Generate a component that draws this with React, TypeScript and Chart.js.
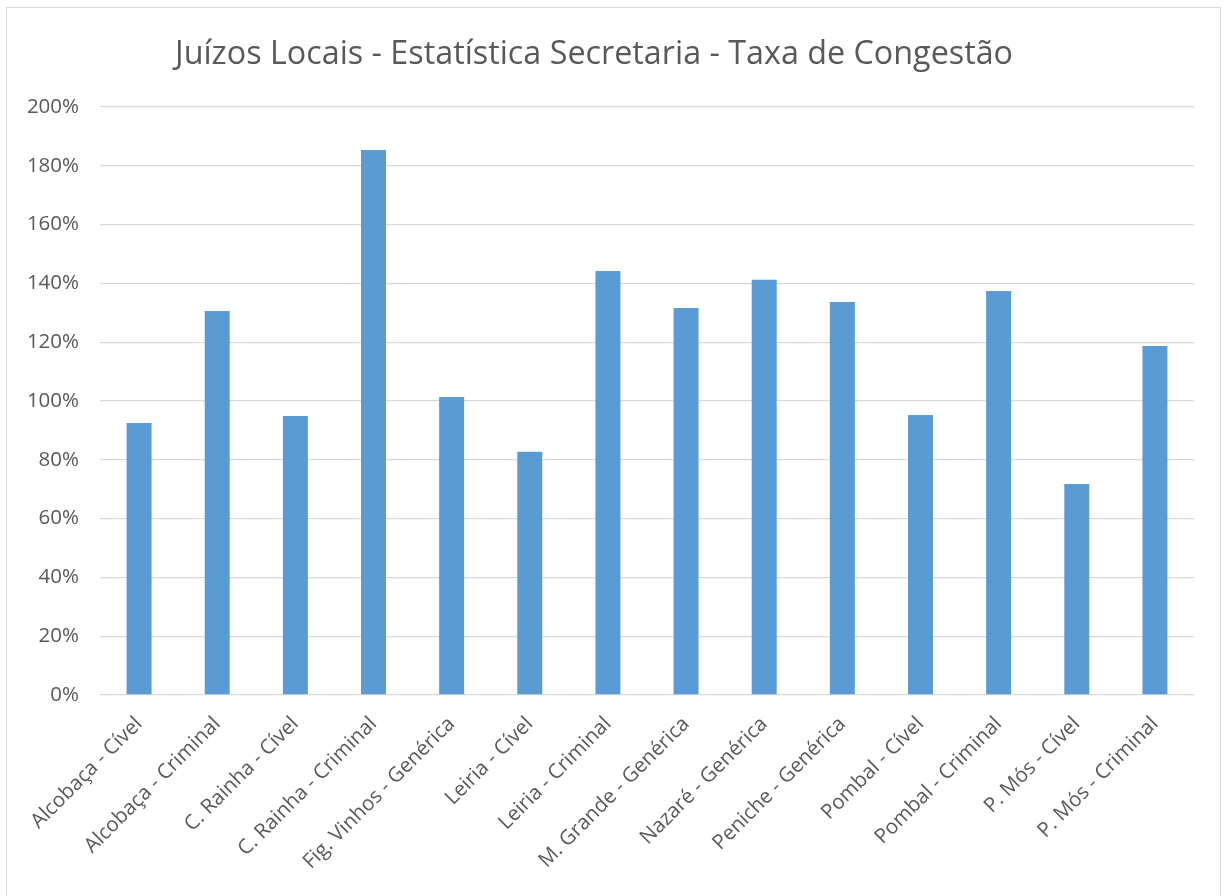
import React, { useEffect, useRef } from "react";
import { Chart, registerables } from "chart.js";

Chart.register(...registerables);

const TITLE = "Juízos Locais - Estatística Secretaria - Taxa de Congestão";
const CATEGORIES = [
  "Alcobaça - Cível",
  "Alcobaça - Criminal",
  "C. Rainha - Cível",
  "C. Rainha - Criminal",
  "Fig. Vinhos - Genérica",
  "Leiria - Cível",
  "Leiria - Criminal",
  "M. Grande - Genérica",
  "Nazaré - Genérica",
  "Peniche - Genérica",
  "Pombal - Cível",
  "Pombal - Criminal",
  "P. Mós - Cível",
  "P. Mós - Criminal",
];
const VALUES = [92.5, 130.6, 94.9, 185.4, 101.4, 82.7, 144.2, 131.6, 141.2, 133.7, 95.2, 137.4, 71.8, 118.7];
const Y_MIN = 0;
const Y_MAX = 200;
const Y_STEP = 20;

const FONT = "'Open Sans', 'DejaVu Sans', sans-serif";
const TEXT = "#595959";

const titlePlugin = {
  id: "customTitle",
  afterDraw(chart: any) {
    const ctx = chart.ctx;
    ctx.save();
    ctx.fillStyle = TEXT;
    ctx.font = `32.3px ${FONT}`;
    ctx.textAlign = "center";
    ctx.textBaseline = "middle";
    ctx.fillText(TITLE, 594, 55);
    ctx.restore();
  },
};

export default function App() {
  const ref = useRef<HTMLCanvasElement>(null);
  useEffect(() => {
    if (!ref.current) return;
    const chart = new Chart(ref.current, {
      type: "bar",
      data: {
        labels: CATEGORIES,
        datasets: [
          {
            data: VALUES,
            backgroundColor: "#5B9BD5",
            barPercentage: 0.32,
            categoryPercentage: 1,
          },
        ],
      },
      plugins: [titlePlugin],
      options: {
        animation: false,
        responsive: false,
        maintainAspectRatio: false,
        layout: { padding: { left: 10, right: 30, top: 107, bottom: 11 } },
        plugins: { legend: { display: false }, tooltip: { enabled: false }, title: { display: false } },
        scales: {
          x: {
            grid: { display: false },
            border: { display: false },
            ticks: {
              color: TEXT,
              font: { family: FONT, size: 20.5 },
              minRotation: 45,
              maxRotation: 45,
              padding: 9,
              autoSkip: false,
            },
            afterFit(scale: any) {
              scale.height = 190;
              scale.paddingLeft = 0;
              scale.paddingRight = 0;
            },
          },
          y: {
            min: Y_MIN,
            max: Y_MAX,
            grid: { color: "#D9D9D9", lineWidth: 1.3, drawTicks: false },
            border: { display: false },
            ticks: {
              stepSize: Y_STEP,
              color: TEXT,
              padding: 21,
              font: { family: FONT, size: 20.5 },
              callback: (v: any) => `${v}%`,
            },
            afterFit(scale: any) {
              scale.width = 90;
              scale.paddingTop = 0;
              scale.paddingBottom = 0;
            },
          },
        },
      },
    });
    return () => chart.destroy();
  }, []);
  return (
    <div style={{ position: "fixed", left: 0, top: 0, width: 1224, height: 896, background: "#fff" }}>
      <div
        style={{
          position: "absolute",
          left: 6,
          top: 7,
          width: 1215,
          height: 920,
          border: "1.5px solid #D9D9D9",
          boxSizing: "border-box",
        }}
      />
      <canvas ref={ref} width={1224} height={896} style={{ position: "absolute", left: 0, top: 0 }} />
    </div>
  );
}
